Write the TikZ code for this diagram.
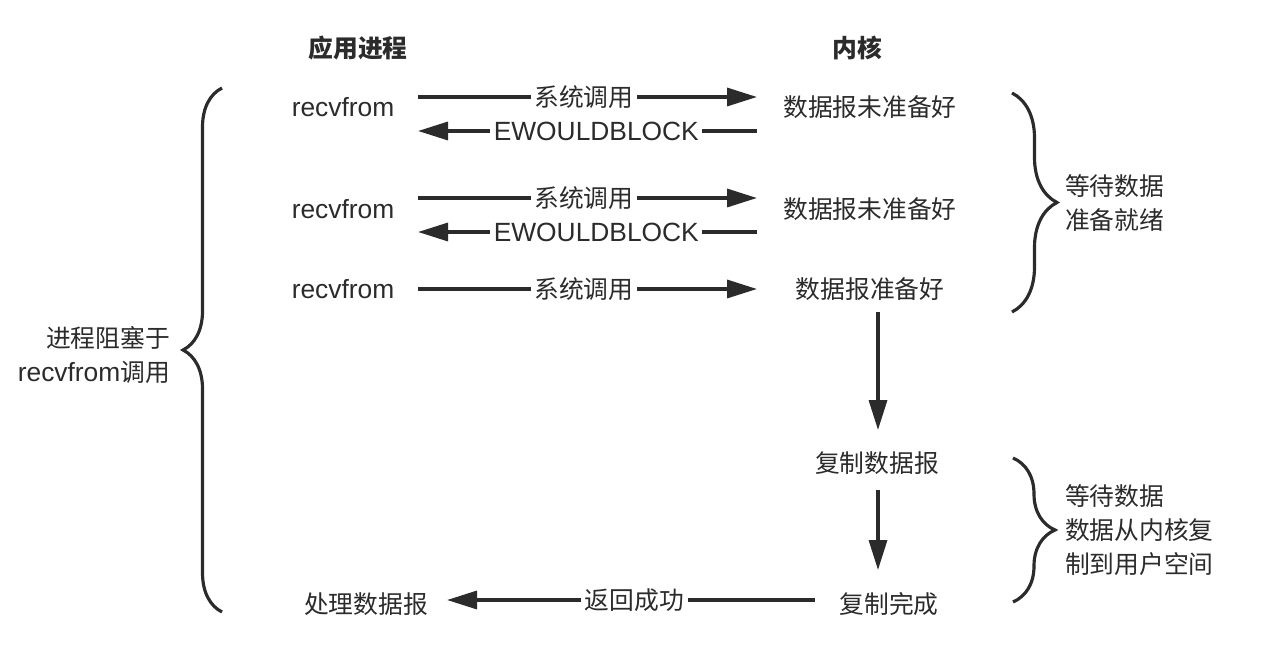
\documentclass[tikz,border=0pt]{standalone}
\usepackage{fontspec}
\setmainfont{Liberation Sans}
\newfontfamily\cjk{Noto Sans CJK SC}[Scale=0.94]
\usepackage{xcolor}
\usetikzlibrary{math,arrows.meta,decorations.pathreplacing}
\definecolor{ink}{HTML}{2B2B2B}

\begin{document}
\begin{tikzpicture}[x=0.02cm,y=-0.02cm,
	txt/.style={font=\fontsize{15}{19.5}\selectfont,text=ink,inner sep=1pt},
	zh/.style={txt,font=\fontsize{15}{19.5}\selectfont\cjk},
	hdr/.style={txt,font=\fontsize{15}{19.5}\selectfont\cjk\bfseries},
	onarr/.style={fill=white,inner sep=2pt},
	arr/.style={draw=ink,line width=1.9pt,-{Triangle[length=0.6cm,width=0.36cm]}},
	brc/.style={draw=ink,line width=1.8pt,decorate,decoration={brace,amplitude=#1}}]
\useasboundingbox (0,0) rectangle (1264,648);
\tikzmath{
	\ax = 343;\kx = 870;\sx = 418;\ex = 757;\dx = 878;
	{\node[hdr] (app) at (358,48) {应用进程};};
	{\node[hdr] (krn) at (857,48) {内核};};
	%
	{\node[txt] (r1) at (\ax,107) {recvfrom};};
	{\node[txt] (r2) at (\ax,209) {recvfrom};};
	{\node[txt] (r3) at (\ax,289) {recvfrom};};
	{\node[zh] (done) at (366,604) {处理数据报};};
	{\node[zh] (k1) at (\kx,107) {数据报未准备好};};
	{\node[zh] (k2) at (\kx,209) {数据报未准备好};};
	{\node[zh] (k3) at (\kx,289) {数据报准备好};};
	{\node[zh] (cp) at (877,463) {复制数据报};};
	{\node[zh] (cpok) at (889,604) {复制完成};};
	%
	{\coordinate (s1) at (\sx,97);};
	{\coordinate (e1) at (\ex,97);};
	{\coordinate (s1b) at (\sx,131);};
	{\coordinate (e1b) at (\ex,131);};
	{\coordinate (s2) at (\sx,198);};
	{\coordinate (e2) at (\ex,198);};
	{\coordinate (s2b) at (\sx,232);};
	{\coordinate (e2b) at (\ex,232);};
	{\coordinate (s3) at (\sx,289);};
	{\coordinate (e3) at (\ex,289);};
	{\coordinate (d1) at (\dx,312);};
	{\coordinate (d1e) at (\dx,430);};
	{\coordinate (d2) at (\dx,490);};
	{\coordinate (d2e) at (\dx,570);};
	{\coordinate (rt) at (815,600);};
	{\coordinate (rte) at (447,600);};
	%
	{\draw[arr] (s1) -- node[zh,onarr,xshift=-2]{系统调用} (e1);};
	{\draw[arr] (e1b) -- node[txt,onarr,xshift=5]{EWOULDBLOCK} (s1b);};
	{\draw[arr] (s2) -- node[zh,onarr,xshift=-2]{系统调用} (e2);};
	{\draw[arr] (e2b) -- node[txt,onarr,xshift=5]{EWOULDBLOCK} (s2b);};
	{\draw[arr] (s3) -- node[zh,onarr,xshift=-2]{系统调用} (e3);};
	{\draw[arr] (d1) -- (d1e);};
	{\draw[arr] (d2) -- (d2e);};
	{\draw[arr] (rt) -- node[zh,onarr,xshift=2]{返回成功} (rte);};
	%
	{\draw[brc=0.78cm] (222,612) -- (222,88);};
	{\draw[brc=0.9cm] (1012,93) -- (1012,312);};
	{\draw[brc=0.84cm] (1013,458) -- (1013,602);};
	{\node[txt,align=right,anchor=east] (blk) at (172,355) {{\cjk 进程阻塞于}\\recvfrom{\cjk 调用}};};
	{\node[zh,align=left,anchor=west] (wt) at (1063,203) {等待数据\\准备就绪};};
	{\node[zh,align=left,anchor=west] (cpy) at (1063,530) {等待数据\\数据从内核复\\制到用户空间};};
};
\end{tikzpicture}
\end{document}
